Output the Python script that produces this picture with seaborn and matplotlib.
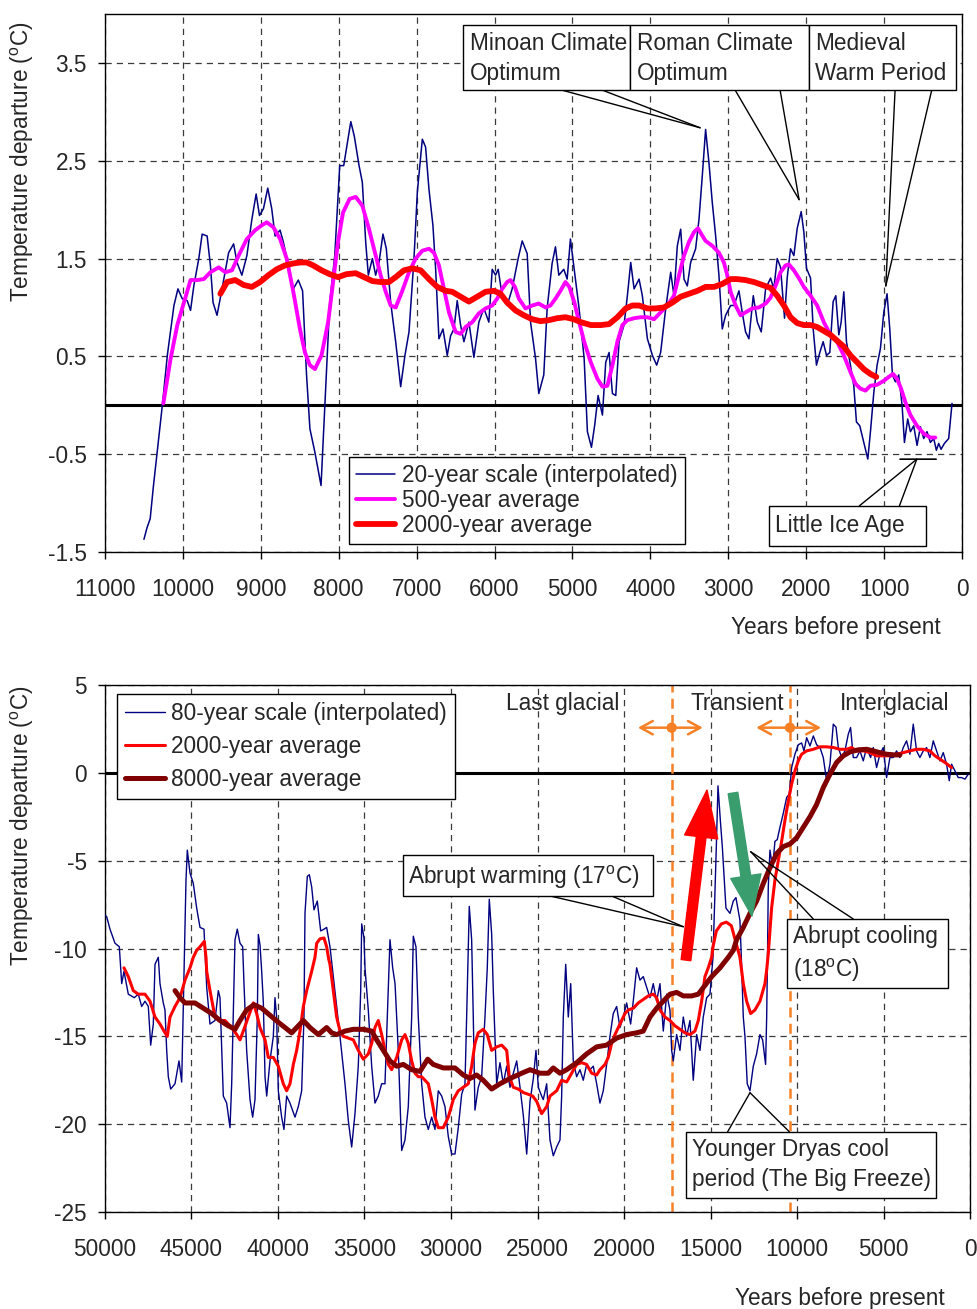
import matplotlib
matplotlib.use("Agg")
import matplotlib.pyplot as plt
import seaborn as sns
from matplotlib.patches import Rectangle, FancyArrowPatch

# ---------------- DATA: top panel (Holocene, years before present) ----------------
h20_years = [10500, 10460, 10420, 10379, 10320, 10264, 10200, 10115, 10064, 10009, 9945, 9902, 9860,
             9796, 9753, 9689, 9647, 9613, 9562, 9498, 9413, 9349, 9306, 9243, 9179, 9115, 9060,
             9017, 8966, 8911, 8860, 8817, 8753, 8711, 8647, 8583, 8519, 8464, 8413, 8370, 8306,
             8227, 8179, 8115, 8051, 7987, 7936, 7881, 7845, 7800, 7739, 7697, 7654, 7620, 7568,
             7526, 7483, 7432, 7389, 7333, 7269, 7205, 7150, 7098, 7034, 6991, 6927, 6885, 6842,
             6791, 6756, 6714, 6662, 6607, 6564, 6521, 6479, 6436, 6393, 6329, 6265, 6201, 6137,
             6073, 6030, 5987, 5953, 5902, 5838, 5774, 5697, 5645, 5581, 5538, 5474, 5432, 5368,
             5325, 5261, 5218, 5175, 5111, 5068, 5026, 4975, 4915, 4850, 4808, 4756, 4714, 4671,
             4615, 4573, 4530, 4487, 4444, 4402, 4338, 4295, 4252, 4209, 4145, 4103, 4038, 3974,
             3919, 3868, 3803, 3739, 3697, 3654, 3611, 3568, 3526, 3483, 3419, 3376, 3333, 3291,
             3248, 3205, 3162, 3120, 3077, 3034, 2970, 2927, 2863, 2821, 2778, 2735, 2679, 2627,
             2577, 2521, 2457, 2415, 2372, 2329, 2278, 2244, 2201, 2158, 2115, 2064, 2030, 1996,
             1944, 1910, 1868, 1825, 1782, 1739, 1697, 1654, 1620, 1581, 1551, 1517, 1483, 1432,
             1389, 1355, 1312, 1261, 1209, 1175, 1132, 1090, 1047, 1004, 962, 927, 893, 855, 812,
             769, 739, 697, 662, 620, 577, 534, 491, 449, 406, 363, 329, 299, 269, 226, 171, 128]
h20_temp = [-1.37, -1.25, -1.16, -0.83, -0.40, 0.00, 0.51, 1.02, 1.19, 1.09, 1.07, 0.97, 1.22,
            1.50, 1.75, 1.73, 1.43, 1.05, 0.92, 1.19, 1.56, 1.65, 1.46, 1.33, 1.53, 1.90, 2.16,
            1.94, 2.01, 2.22, 2.01, 1.73, 1.79, 1.67, 1.43, 1.19, 1.28, 1.17, 0.31, -0.24, -0.48,
            -0.82, -0.02, 1.05, 1.53, 2.45, 2.45, 2.72, 2.90, 2.75, 2.45, 2.28, 1.67, 1.33, 1.50,
            1.33, 1.46, 1.75, 1.60, 1.05, 0.65, 0.19, 0.51, 0.75, 1.50, 2.18, 2.72, 2.64, 2.21,
            1.84, 1.39, 0.68, 0.78, 0.51, 0.71, 0.78, 1.07, 0.82, 0.65, 0.85, 0.49, 0.85, 0.99,
            0.85, 1.39, 1.33, 1.39, 1.12, 1.02, 1.19, 1.50, 1.68, 1.55, 0.85, 0.48, 0.12, 0.31,
            0.99, 1.45, 1.62, 1.33, 1.39, 1.29, 1.70, 1.37, 0.99, 0.48, -0.27, -0.43, -0.20, 0.10,
            -0.10, 0.44, 0.54, 0.12, 0.10, 0.65, 0.82, 1.12, 1.46, 1.19, 1.29, 1.12, 0.68, 0.51,
            0.41, 0.54, 0.99, 1.36, 1.12, 1.63, 1.80, 1.29, 1.22, 1.46, 1.60, 1.90, 2.35, 2.82,
            2.48, 2.07, 1.73, 1.33, 0.78, 0.92, 1.02, 1.02, 1.17, 0.95, 0.75, 0.68, 1.12, 0.85,
            0.75, 1.19, 1.30, 1.19, 1.50, 1.41, 0.89, 1.30, 1.60, 1.53, 1.81, 1.98, 1.77, 1.40,
            1.30, 0.78, 0.41, 0.54, 0.65, 0.51, 0.54, 1.06, 1.12, 0.72, 0.85, 1.16, 0.65, 0.41,
            0.20, -0.17, -0.21, -0.38, -0.55, -0.27, 0.13, 0.41, 0.58, 0.95, 1.14, 0.78, 0.31, 0.24, 0.31,
            0.00, -0.38, -0.14, -0.27, -0.21, -0.41, -0.22, -0.34, -0.27, -0.38, -0.34, -0.46, -0.39, -0.45, -0.39, -0.34, 0.02]

h500_years = [10251, 10157, 10072, 9987, 9902, 9817, 9732, 9647, 9540, 9455, 9370, 9285, 9179, 9072,
              8987, 8923, 8838, 8753, 8668, 8583, 8498, 8434, 8370, 8306, 8221, 8136, 8072, 8009,
              7945, 7860, 7782, 7697, 7611, 7526, 7462, 7397, 7333, 7269, 7184, 7098, 7013, 6927,
              6842, 6778, 6714, 6650, 6585, 6500, 6436, 6372, 6286, 6201, 6115, 6030, 5966, 5902,
              5838, 5795, 5739, 5688, 5603, 5517, 5432, 5346, 5282, 5218, 5154, 5090, 5040, 4975,
              4936, 4850, 4765, 4679, 4615, 4551, 4487, 4423, 4359, 4295, 4209, 4124, 4038, 3953,
              3868, 3782, 3697, 3632, 3568, 3504, 3440, 3389, 3346, 3291, 3205, 3120, 3056, 3013,
              2970, 2906, 2842, 2778, 2692, 2607, 2521, 2457, 2393, 2329, 2265, 2222, 2158, 2094,
              2030, 1944, 1859, 1774, 1688, 1603, 1517, 1432, 1368, 1303, 1239, 1175, 1090, 1004,
              940, 885, 833, 782, 726, 662, 577, 491, 406, 342]
h500_temp = [0.02, 0.48, 0.82, 1.05, 1.28, 1.28, 1.29, 1.36, 1.41, 1.36, 1.38, 1.53, 1.70, 1.79,
             1.84, 1.87, 1.82, 1.70, 1.50, 1.16, 0.78, 0.54, 0.41, 0.37, 0.51, 0.85, 1.26, 1.67,
             1.97, 2.11, 2.13, 2.04, 1.80, 1.53, 1.33, 1.16, 1.02, 1.00, 1.17, 1.36, 1.50, 1.58,
             1.60, 1.56, 1.43, 1.19, 0.95, 0.75, 0.73, 0.80, 0.85, 0.94, 0.99, 1.02, 1.09, 1.19,
             1.26, 1.28, 1.21, 1.09, 0.99, 1.02, 1.04, 1.00, 1.02, 1.09, 1.17, 1.26, 1.21, 1.05,
             0.92, 0.65, 0.44, 0.27, 0.19, 0.20, 0.41, 0.65, 0.82, 0.87, 0.89, 0.90, 0.90, 0.88,
             0.95, 1.02, 1.12, 1.33, 1.53, 1.67, 1.77, 1.81, 1.75, 1.68, 1.63, 1.56, 1.46, 1.33,
             1.16, 1.02, 0.92, 0.95, 0.99, 1.00, 1.04, 1.10, 1.22, 1.36, 1.43, 1.44, 1.38, 1.30,
             1.21, 1.12, 1.02, 0.85, 0.72, 0.65, 0.51, 0.34, 0.22, 0.17, 0.15, 0.20, 0.21, 0.25,
             0.29, 0.32, 0.27, 0.17, 0.03, -0.10, -0.21, -0.29, -0.33, -0.33]

h2000_years = [9519, 9434, 9328, 9221, 9115, 9009, 8902, 8796, 8689, 8583, 8498, 8413, 8328, 8221,
               8115, 8009, 7902, 7782, 7675, 7568, 7462, 7355, 7269, 7162, 7056, 6949, 6842, 6735,
               6628, 6543, 6436, 6329, 6222, 6115, 6009, 5923, 5838, 5731, 5624, 5517, 5410, 5303,
               5197, 5090, 4983, 4893, 4765, 4636, 4530, 4423, 4316, 4231, 4145, 4038, 3932, 3825,
               3718, 3611, 3504, 3397, 3291, 3184, 3077, 2970, 2885, 2778, 2671, 2564, 2457, 2372,
               2286, 2201, 2115, 2030, 1944, 1859, 1774, 1688, 1603, 1517, 1432, 1346, 1261, 1175, 1100]
h2000_temp = [1.14, 1.26, 1.28, 1.23, 1.21, 1.26, 1.33, 1.39, 1.43, 1.45, 1.46, 1.46, 1.43, 1.38,
              1.34, 1.31, 1.34, 1.35, 1.31, 1.27, 1.26, 1.26, 1.31, 1.38, 1.40, 1.38, 1.29, 1.21,
              1.17, 1.16, 1.11, 1.06, 1.11, 1.16, 1.17, 1.14, 1.05, 0.97, 0.92, 0.88, 0.86, 0.87,
              0.89, 0.90, 0.88, 0.85, 0.82, 0.82, 0.83, 0.90, 0.99, 1.02, 1.02, 0.99, 0.99, 1.00,
              1.05, 1.11, 1.14, 1.17, 1.21, 1.21, 1.24, 1.29, 1.29, 1.28, 1.26, 1.23, 1.20, 1.12,
              1.02, 0.90, 0.84, 0.82, 0.82, 0.80, 0.76, 0.72, 0.66, 0.60, 0.51, 0.44, 0.37, 0.32, 0.29]

# ---------------- DATA: bottom panel (last 50,000 years) ----------------
g80_years = [50000, 49900, 49711, 49422, 49173, 49035, 48902, 48653, 48307, 48075, 47880, 47688, 47497,
             47359, 47208, 47110, 46919, 46821, 46630, 46532, 46434, 46340, 46203, 45954, 45723, 45567,
             45416, 45318, 45242, 45087, 44895, 44700, 44509, 44278, 44122, 43931, 43642, 43450, 43353,
             43162, 42968, 42775, 42677, 42544, 42486, 42353, 42197, 42043, 41966, 41812, 41619, 41465,
             41330, 41195, 41137, 41040, 40943, 40847, 40750, 40654, 40463, 40271, 40174, 40078, 39982,
             39789, 39656, 39500, 39307, 39018, 38826, 38632, 38499, 38440, 38306, 38190, 38053, 37920,
             37729, 37533, 37342, 37188, 36995, 36803, 36610, 36417, 36128, 35936, 35742, 35550, 35359,
             35220, 35162, 35030, 34972, 34781, 34585, 34394, 34203, 34007, 33816, 33683, 33527, 33371,
             33235, 33047, 32851, 32660, 32469, 32273, 32180, 32025, 31891, 31695, 31504, 31313, 31117,
             30926, 30735, 30539, 30348, 30157, 29961, 29770, 29579, 29383, 29192, 29096, 28944, 28806,
             28712, 28615, 28424, 28228, 28036, 27903, 27787, 27649, 27555, 27360, 27169, 26977, 26781,
             26590, 26398, 26203, 26011, 25820, 25624, 25433, 25241, 25088, 24955, 24759, 24666, 24470,
             24279, 24088, 23893, 23701, 23604, 23508, 23370, 23220, 23080, 22932, 22737, 22545, 22354,
             22159, 21967, 21776, 21581, 21390, 21198, 21003, 20811, 20620, 20425, 20233, 20042, 19847,
             19616, 19464, 19270, 19077, 18886, 18690, 18499, 18308, 18114, 17921, 17729, 17533, 17343,
             17245, 17152, 16958, 16765, 16574, 16380, 16187, 15996, 15800, 15609, 15418, 15222, 15031,
             14856, 14663, 14567, 14432, 14317, 14107, 13875, 13683, 13530, 13298, 13200, 13105, 13008,
             12876, 12719, 12527, 12335, 12141, 11987, 11815, 11753, 11700, 11661, 11563, 11408, 11275,
             11140, 10985, 10792, 10598, 10446, 10310, 10118, 9926, 9732, 9597, 9441, 9251, 9057, 8866,
             8673, 8480, 8287, 8095, 7902, 7745, 7613, 7419, 7228, 7036, 6902, 6748, 6555, 6361, 6170,
             5977, 5746, 5593, 5400, 5207, 5014, 4822, 4630, 4437, 4244, 4051, 3858, 3666, 3473, 3280,
             3088, 2895, 2702, 2510, 2317, 2124, 1932, 1739, 1546, 1354, 1200, 1063, 872, 679, 487, 295, 100]
g80_temp = [-8.1, -8.2, -8.9, -9.7, -9.9, -12.0, -11.3, -12.6, -12.8, -12.6, -13.3, -13.0, -13.3,
            -15.5, -14.3, -10.9, -10.5, -12.0, -13.1, -13.5, -15.8, -17.3, -18.0, -17.7, -16.4, -17.6,
            -10.5, -6.1, -4.4, -5.7, -6.3, -7.7, -8.8, -8.9, -12.2, -14.3, -14.1, -12.4, -12.8,
            -18.4, -18.8, -20.2, -17.7, -12.0, -9.5, -8.9, -9.7, -9.9, -12.0, -15.8, -18.6, -19.6,
            -18.6, -13.9, -9.2, -9.8, -11.3, -13.1, -17.3, -18.4, -16.4, -15.0, -12.8, -13.9, -18.1,
            -19.6, -20.3, -18.4, -18.8, -19.6, -19.0, -18.1, -13.9, -8.0, -5.9, -5.8, -6.5, -7.8,
            -7.3, -9.0, -8.9, -8.8, -9.9, -11.6, -13.3, -15.0, -17.7, -19.8, -21.3, -19.4, -16.7,
            -12.4, -8.6, -9.4, -11.1, -13.5, -16.7, -18.8, -18.4, -17.7, -17.7, -13.9, -9.5, -11.1,
            -12.0, -15.8, -21.5, -20.9, -19.0, -13.9, -9.3, -9.9, -13.9, -17.7, -19.6, -20.3, -19.6,
            -20.3, -18.1, -18.4, -19.0, -20.7, -21.7, -21.7, -20.2, -18.3, -17.7, -13.9, -7.6, -9.5,
            -13.9, -19.2, -17.9, -17.3, -13.9, -11.1, -7.2, -9.2, -12.4, -17.7, -16.5, -17.7, -16.7,
            -17.9, -17.1, -16.4, -17.9, -19.5, -21.7, -18.7, -17.4, -15.8, -17.9, -18.4, -18.6, -17.7,
            -20.9, -21.8, -21.3, -20.9, -18.4, -13.9, -10.9, -13.9, -12.0, -16.4, -17.3, -16.9, -17.5,
            -16.6, -16.9, -16.7, -17.7, -18.8, -18.1, -16.6, -15.0, -13.7, -13.3, -14.5, -13.9, -13.1,
            -14.3, -13.0, -11.1, -11.8, -11.6, -12.2, -12.8, -12.0, -13.0, -12.0, -14.7, -12.6, -13.5,
            -15.8, -16.4, -14.9, -15.8, -13.9, -15.0, -14.1, -17.5, -14.9, -15.8, -13.9, -12.8, -12.6,
            -10.5, -4.2, -0.74, -2.7, -4.2, -7.7, -8.0, -7.3, -7.1, -8.4, -11.0, -13.9, -15.0,
            -17.7, -18.1, -16.7, -16.0, -14.9, -15.2, -16.6, -13.9, -10.0, -6.5, -4.4, -5.4, -3.9,
            -3.8, -3.1, -2.3, -1.4, -1.2, 0.3, 1.06, 1.6, 1.7, 1.25, 2.0, 1.53, 2.1, 1.6,
            1.44, 0.87, -0.45, 0.49, 2.77, 2.6, 1.44, 0.87, 1.25, 2.2, 2.58, 0.87, 0.87, 1.25, 0.68,
            1.44, 0.87, 1.44, 0.30, 1.06, 1.44, -0.27, 0.87, 0.87, 1.25, 0.87, 1.44, 1.82, 1.06, 2.77,
            1.25, 0.87, 1.25, 1.44, 0.87, 1.82, 1.25, 0.68, 1.15, 0.49, -0.45, 0.49, 0.11, -0.27, -0.27, -0.36, -0.08]

g2000_years = [48902, 48653, 48364, 48075, 47688, 47399, 47110, 46821, 46590, 46399, 46243, 45954, 45665,
               45376, 45087, 44895, 44700, 44509, 44260, 44162, 44122, 43931, 43642, 43353, 43064, 42677,
               42388, 42197, 42006, 41717, 41428, 41234, 41041, 40750, 40561, 40271, 39982, 39694, 39500,
               39307, 39114, 38921, 38729, 38535, 38343, 38053, 37862, 37764, 37573, 37342, 37188, 37070,
               36995, 36803, 36610, 36417, 36225, 35936, 35647, 35359, 35070, 34781, 34585, 34394, 34203,
               34007, 33816, 33623, 33429, 33140, 32851, 32660, 32469, 32273, 32082, 31891, 31695, 31500,
               31313, 31117, 30926, 30735, 30446, 30157, 29868, 29579, 29290, 29000, 28806, 28615, 28424,
               28135, 27903, 27649, 27360, 27071, 26781, 26630, 26398, 26109, 25820, 25531, 25280, 25049,
               24759, 24470, 24279, 23893, 23604, 23315, 23026, 22737, 22448, 22159, 21870, 21581, 21390,
               21100, 20909, 20713, 20522, 20331, 20135, 19944, 19753, 19464, 19175, 18886, 18597, 18308,
               18114, 17921, 17632, 17343, 17054, 16765, 16476, 16187, 15898, 15706, 15512, 15320, 15129,
               14933, 14856, 14663, 14374, 14085, 13796, 13604, 13411, 13298, 13105, 12911, 12680, 12431,
               12141, 11852, 11750, 11661, 11468, 11275, 11082, 10889, 10696, 10503, 10310, 10118, 9926,
               9732, 9443, 9057, 8673, 8287, 7902, 7517, 7131, 6842, 6555, 6170, 5785, 5400, 5014, 4630,
               4244, 3858, 3473, 3088, 2702, 2317, 2028, 1739, 1450, 1063]
g2000_temp = [-11.1, -11.6, -12.4, -12.6, -12.6, -13.0, -13.9, -14.3, -14.7, -15.0, -13.9, -13.3, -12.8,
              -11.8, -11.1, -10.5, -10.1, -9.9, -9.6, -10.5, -11.3, -12.4, -13.9, -14.1, -14.1, -14.5,
              -14.9, -15.2, -14.7, -13.9, -13.1, -13.7, -14.5, -15.2, -16.2, -16.2, -16.7, -17.7, -18.1,
              -17.7, -16.6, -15.8, -14.7, -13.3, -12.4, -11.3, -10.5, -9.7, -9.45, -9.4, -9.9, -10.6,
              -10.9, -12.4, -13.9, -14.7, -15.0, -15.1, -15.2, -15.8, -16.3, -16.0, -15.4, -14.5, -14.1,
              -14.9, -15.8, -16.6, -16.9, -16.2, -15.2, -14.9, -15.4, -16.4, -17.1, -17.3, -17.3, -17.5,
              -17.7, -18.6, -19.6, -20.2, -20.2, -19.6, -18.6, -18.1, -17.9, -17.7, -16.7, -15.4, -14.8,
              -14.6, -14.9, -15.8, -15.6, -15.5, -15.8, -17.3, -17.9, -18.0, -18.2, -18.3, -18.4, -18.7,
              -19.4, -19.0, -18.4, -18.1, -17.5, -17.6, -17.1, -16.6, -16.5, -16.6, -17.1, -17.2, -16.9,
              -16.6, -16.2, -15.4, -14.9, -14.5, -14.1, -13.7, -13.5, -13.4, -13.1, -12.9, -12.7, -12.6,
              -12.8, -13.5, -13.9, -14.1, -14.4, -14.6, -14.8, -14.9, -14.7, -14.1, -13.0, -11.6, -11.1,
              -10.5, -9.9, -9.0, -8.6, -8.5, -8.7, -9.4, -10.1, -10.5, -12.0, -13.0, -13.7, -13.5,
              -13.0, -12.0, -11.2, -10.3, -7.7, -6.1, -5.0, -3.9, -2.7, -1.6, -0.64, 0.11, 0.68,
              1.06, 1.25, 1.34, 1.48, 1.48, 1.44, 1.34, 1.34, 1.44, 1.25, 1.25, 1.15, 0.97, 0.97, 0.97,
              1.06, 1.15, 1.25, 1.34, 1.34, 1.25, 0.97, 0.78, 0.59, 0.30]

g8000_years = [45954, 45665, 45376, 44798, 44316, 43834, 43353, 42873, 42486, 42197, 41812, 41388, 40943,
               40463, 39982, 39596, 39210, 38921, 38535, 38151, 37671, 37188, 36899, 36610, 36128, 35647,
               35070, 34585, 34296, 33911, 33527, 33140, 32755, 32273, 31793, 31349, 31024, 30446, 29770,
               29290, 28903, 28517, 28135, 27649, 27169, 26590, 25915, 25433, 24857, 24377, 24088, 23701,
               23315, 22737, 22159, 21581, 21003, 20425, 19847, 19270, 18886, 18499, 18114, 17729, 17343,
               16958, 16573, 16091, 15706, 15320, 14933, 14451, 13971, 13682, 13490, 13105, 12719, 12335,
               11949, 11563, 11178, 10792, 10407, 10021, 9636, 9251, 8866, 8480, 8095, 7709, 7324, 6939,
               6457, 5977, 5593, 5207, 4822, 4340, 4051]
g8000_temp = [-12.4, -12.8, -13.1, -13.1, -13.4, -13.7, -14.1, -14.4, -14.6, -14.1, -13.5, -13.2, -13.4,
              -13.8, -14.2, -14.5, -14.8, -14.5, -14.1, -14.5, -14.9, -14.5, -14.8, -14.9, -14.7, -14.6,
              -14.6, -14.7, -15.2, -15.8, -16.4, -16.7, -16.6, -16.9, -17.0, -16.3, -16.6, -16.8, -16.8,
              -17.2, -17.4, -17.2, -17.5, -18.0, -17.7, -17.4, -17.1, -16.9, -17.1, -17.1, -16.8, -17.1,
              -16.9, -16.5, -16.0, -15.6, -15.5, -15.1, -14.9, -14.8, -14.7, -13.9, -13.4, -13.0, -12.6,
              -12.5, -12.7, -12.7, -12.6, -12.1, -11.6, -11.1, -10.5, -10.1, -9.5, -8.8, -8.0, -7.3,
              -6.3, -5.4, -4.6, -4.2, -4.05, -3.7, -3.1, -2.5, -1.8, -0.84, -0.08, 0.59, 0.97, 1.19,
              1.31, 1.34, 1.25, 1.15, 1.06, 1.02, 1.02]

period_bounds = [17245, 10407]          # glacial/transient and transient/interglacial
period_labels = ["Last glacial", "Transient", "Interglacial"]
period_label_x = [23526, 13469, 4335]

top_xticks = list(range(11000, -1, -1000))
top_yticks = [-1.5, -0.5, 0.5, 1.5, 2.5, 3.5]
bot_xticks = list(range(50000, -1, -5000))
bot_yticks = [5, 0, -5, -10, -15, -20, -25]

# ---------------- STYLE ----------------
sns.set_theme(style="ticks")
plt.rcParams["font.family"] = ["Liberation Sans", "DejaVu Sans"]
plt.rcParams["mathtext.fontset"] = "custom"
plt.rcParams["mathtext.rm"] = "Liberation Sans"
plt.rcParams["axes.unicode_minus"] = False
FS = 16.3
NAVY, MAG, RED, DRED = "#000080", "#FF00FF", "#FF0000", "#800000"
ORANGE, GREEN = "#F58025", "#3A9D6E"
GRID = dict(color="#3a3a3a", ls=(0, (5, 4)), lw=0.9)
DEG = r"$\mathregular{^o}$C"

fig = plt.figure(figsize=(9.77, 13.09), dpi=100)
ax1 = fig.add_axes([105 / 977, 1 - 552 / 1309, 857 / 977, 538 / 1309])
ax2 = fig.add_axes([105 / 977, 1 - 1212 / 1309, 865 / 977, 527 / 1309])


def style_axes(ax, xticks, yticks, xlim, ylim):
    ax.set_xlim(*xlim)
    ax.set_ylim(*ylim)
    ax.set_xticks(xticks)
    ax.set_xticklabels([str(v) for v in xticks])
    ax.set_yticks(yticks)
    ax.set_yticklabels([str(v) for v in yticks])
    ax.set_xlabel("")
    ax.set_ylabel("")
    ax.grid(True, **GRID)
    ax.set_axisbelow(True)
    ax.axhline(0, color="black", lw=2.2, zorder=1.5)
    for s in ax.spines.values():
        s.set_color("black")
        s.set_linewidth(1.0)
        s.set_visible(True)
    ax.tick_params(axis="both", labelsize=FS, length=5, width=1, color="black", direction="out")
    ax.tick_params(axis="x", pad=14)
    ax.tick_params(axis="y", pad=8)


def line(ax, x, y, color, lw, label):
    sns.lineplot(x=x, y=y, ax=ax, color=color, lw=lw, label=label, estimator=None, sort=False, zorder=3)


def box(ax, x0, x1, y0, y1, lines_, tx, tys, ha="left"):
    ax.add_patch(Rectangle((min(x0, x1), min(y0, y1)), abs(x1 - x0), abs(y1 - y0),
                           fc="white", ec="black", lw=1.0, zorder=6))
    for txt, ty in zip(lines_, tys):
        ax.text(tx, ty, txt, fontsize=FS, ha=ha, va="center", zorder=7)


def callout(ax, tip, bases):
    for b in bases:
        ax.annotate("", xy=tip, xytext=b,
                    arrowprops=dict(arrowstyle="-", color="black", lw=1.0, shrinkA=0, shrinkB=0),
                    zorder=5)


def legend(ax, anchor, spacing, bpad):
    lg = ax.legend(loc="upper left", bbox_to_anchor=anchor, fontsize=FS, frameon=True,
                   fancybox=False, edgecolor="black", framealpha=1, handlelength=1.75,
                   handletextpad=0.3, labelspacing=spacing, borderpad=bpad, borderaxespad=0)
    lg.get_frame().set_linewidth(1.0)
    lg.set_zorder(8)


# ---------------- TOP PANEL ----------------
line(ax1, h20_years, h20_temp, NAVY, 1.1, "20-year scale (interpolated)")
line(ax1, h500_years, h500_temp, MAG, 2.8, "500-year average")
line(ax1, h2000_years, h2000_temp, RED, 4.2, "2000-year average")
style_axes(ax1, top_xticks, top_yticks, (11000, 0), (-1.5, 4.0))
legend(ax1, (0.2847, 0.1766), 0.09, 0.3)

callout(ax1, (3362, 2.837), [(5146, 3.224), (4624, 3.224)])
callout(ax1, (2091, 2.102), [(2913, 3.224), (2335, 3.224)])
callout(ax1, (978, 1.22), [(859, 3.224), (388, 3.224)])
box(ax1, 6404, 4261, 3.224, 3.888, ["Minoan Climate", "Optimum"], 6314, [3.695, 3.39])
box(ax1, 4261, 1963, 3.224, 3.888, ["Roman Climate", "Optimum"], 4175, [3.695, 3.39])
box(ax1, 1963, 76, 3.224, 3.888, ["Medieval", "Warm Period"], 1886, [3.695, 3.39])

ax1.annotate("", xy=(795, -0.551), xytext=(332, -0.551),
             arrowprops=dict(arrowstyle="-", color="black", lw=1.2, shrinkA=0, shrinkB=0))
callout(ax1, (580, -0.551), [(1317, -1.028), (803, -1.028)])
box(ax1, 2472, 465, -1.028, -1.436, ["Little Ice Age"], 2400, [-1.225])

fig.text(941 / 977, 1 - 628 / 1309, "Years before present", ha="right", va="center", fontsize=FS)
fig.text(22 / 977, 1 - 162 / 1309, "Temperature departure (" + DEG + ")", rotation=90,
         ha="center", va="center", fontsize=FS)

# ---------------- BOTTOM PANEL ----------------
line(ax2, g80_years, g80_temp, NAVY, 1.0, "80-year scale (interpolated)")
line(ax2, g2000_years, g2000_temp, RED, 2.2, "2000-year average")
line(ax2, g8000_years, g8000_temp, DRED, 3.6, "8000-year average")
style_axes(ax2, bot_xticks, bot_yticks, (50000, 0), (-25, 5))
legend(ax2, (0.0139, 0.9829), 0.44, 0.35)

for xb in period_bounds:
    ax2.axvline(xb, color=ORANGE, ls=(0, (4, 2.5)), lw=1.8, zorder=2.5)
    ax2.annotate("", xy=(xb + 1950, 2.57), xytext=(xb - 1800, 2.57),
                 arrowprops=dict(arrowstyle="<->,head_length=0.55,head_width=0.3", color=ORANGE,
                                 lw=1.8, shrinkA=0, shrinkB=0, mutation_scale=16), zorder=4)
ax2.scatter(period_bounds, [2.57] * len(period_bounds), s=55, color=ORANGE, zorder=5, edgecolor="none")
for lab, lx in zip(period_labels, period_label_x):
    ax2.text(lx, 3.92, lab, ha="center", va="center", fontsize=FS, zorder=4)

ax2.add_patch(FancyArrowPatch(posA=(16417, -10.66), posB=(15203, -0.98),
                              arrowstyle="simple,head_length=34,head_width=24,tail_width=7",
                              mutation_scale=1, color=RED, shrinkA=0, shrinkB=0, zorder=4))
ax2.add_patch(FancyArrowPatch(posA=(13700, -1.15), posB=(12602, -8.15),
                              arrowstyle="simple,head_length=29,head_width=22,tail_width=7",
                              mutation_scale=1, color=GREEN, shrinkA=0, shrinkB=0, zorder=4))

callout(ax2, (16572, -8.76), [(24278, -7.01), (20711, -7.01)])
box(ax2, 32792, 18324, -4.68, -7.01, ["Abrupt warming (17" + DEG + ")"], 32486, [-5.93])
callout(ax2, (12677, -4.49), [(9058, -8.32), (6746, -8.32)])
box(ax2, 10578, 1289, -8.32, -12.25, ["Abrupt cooling", "(18" + DEG + ")"], 10249, [-9.33, -11.23])
callout(ax2, (12717, -18.21), [(14007, -20.43), (10446, -20.43)])
box(ax2, 16434, 1983, -20.43, -24.22, ["Younger Dryas cool", "period (The Big Freeze)"], 16088,
    [-21.47, -23.14])

fig.text(945 / 977, 1 - 1298 / 1309, "Years before present", ha="right", va="center", fontsize=FS)
fig.text(22 / 977, 1 - 826 / 1309, "Temperature departure (" + DEG + ")", rotation=90,
         ha="center", va="center", fontsize=FS)

fig.savefig("out.png", dpi=100)
